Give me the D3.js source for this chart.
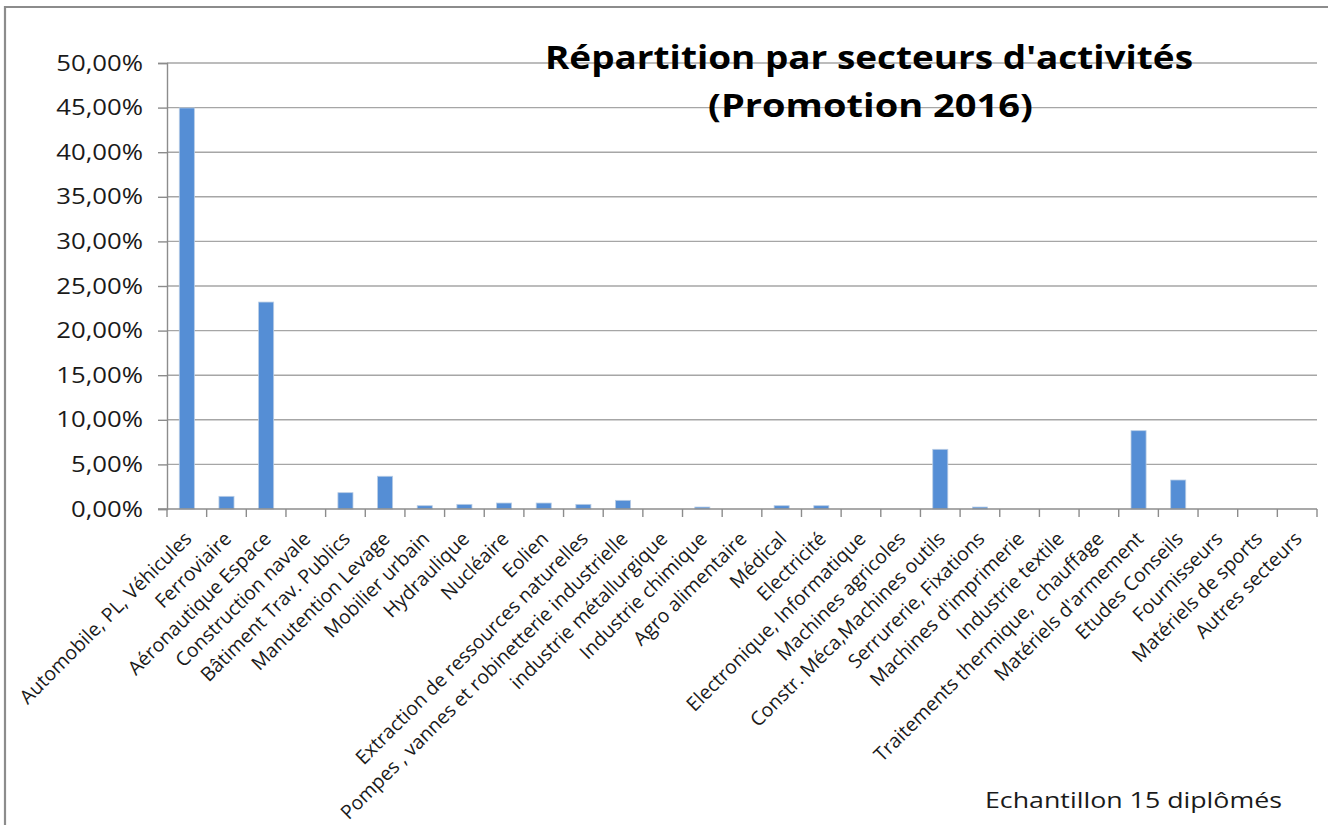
<!DOCTYPE html>
<html>
<head>
<meta charset="utf-8">
<script src="https://cdn.jsdelivr.net/npm/d3@7"></script>
<style>
  body { margin: 0; background: #fff; }
  svg { display: block; font-family: "Open Sans", Lato, sans-serif; }
</style>
</head>
<body>
<svg id="canvas" width="1328" height="825"></svg>
<script>
// categories (secteurs) and share of graduates
const secteurs = [
  "Automobile, PL, Véhicules", "Ferroviaire", "Aéronautique Espace", "Construction navale",
  "Bâtiment Trav. Publics", "Manutention Levage", "Mobilier urbain", "Hydraulique",
  "Nucléaire", "Eolien", "Extraction de ressources naturelles",
  "Pompes , vannes et robinetterie industrielle", "industrie métallurgique",
  "Industrie chimique", "Agro alimentaire", "Médical", "Electricité",
  "Electronique, Informatique", "Machines agricoles", "Constr. Méca,Machines outils",
  "Serrurerie, Fixations", "Machines d'imprimerie", "Industrie textile",
  "Traitements thermique,  chauffage", "Matériels d'armement", "Etudes Conseils",
  "Fournisseurs", "Matériels de sports", "Autres secteurs"
];
const parts = [
  0.4496, 0.0142, 0.2320, 0, 0.0183, 0.0367, 0.0037, 0.0052,
  0.0067, 0.0067, 0.0052, 0.0097, 0, 0.0022, 0, 0.0037, 0.0037,
  0, 0, 0.0669, 0.0022, 0, 0, 0, 0.0878, 0.0325, 0, 0, 0
];
const yTicks = [0, 0.05, 0.10, 0.15, 0.20, 0.25, 0.30, 0.35, 0.40, 0.45, 0.50];

const titre1 = "Répartition par secteurs d'activités";
const titre2 = "(Promotion 2016)";
const note = "Echantillon 15 diplômés";

let canvas = d3.select("#canvas");

// chart frame (left + top edge only are visible)
canvas.append("path")
    .attr("d", "M5,825 L5,7 L1328,7")
    .attr("fill", "none")
    .attr("stroke", "#8c8c8c")
    .attr("stroke-width", 2.2);

let x = d3.scaleBand()
    .domain(secteurs)
    .range([167, 1317])
    .paddingInner(0.62)
    .paddingOuter(0.31);

let y = d3.scaleLinear()
    .domain([0, 0.5])
    .range([509, 63]);

let fmt = (v) => d3.format(".2f")(v * 100).replace(".", ",") + "%";

// gridlines
canvas.append("g")
    .selectAll("line")
    .data(yTicks.filter((d) => d > 0))
    .enter()
    .append("line")
    .attr("x1", 167)
    .attr("x2", 1317)
    .attr("y1", (d) => y(d))
    .attr("y2", (d) => y(d))
    .attr("stroke", "#a6a6a6")
    .attr("stroke-width", 1.4);

// y axis
let yAxis = canvas.append("g")
    .attr("transform", "translate(167,0)")
    .call(d3.axisLeft(y).tickValues(yTicks).tickFormat(fmt).tickSize(9).tickPadding(0));
yAxis.select(".domain").attr("stroke", "#8c8c8c").attr("stroke-width", 1.4);
yAxis.selectAll(".tick line").attr("stroke", "#8c8c8c").attr("stroke-width", 1.4);
// labels are a bit wider than Open Sans, so stretch them horizontally
yAxis.selectAll(".tick text")
    .attr("x", null)
    .attr("transform", "translate(-24,0) scale(1.17,1)")
    .attr("font-size", 22)
    .attr("font-family", "'Open Sans', sans-serif")
    .attr("fill", "#1a1a1a");

// bars
canvas.append("g")
    .selectAll("rect")
    .data(secteurs)
    .enter()
    .append("rect")
    .attr("x", (d) => x(d))
    .attr("width", x.bandwidth())
    .attr("y", (d, i) => y(parts[i]))
    .attr("height", (d, i) => y(0) - y(parts[i]))
    .attr("fill", "#558ed5")
    .attr("stroke", (d, i) => parts[i] > 0 ? "#b9cde5" : "none")
    .attr("stroke-width", 0.8);

// x axis: line + ticks at category boundaries
let step = x.step();
let bounds = d3.range(secteurs.length + 1).map((i) => 167 + i * step);
canvas.append("line")
    .attr("x1", 158).attr("x2", 1317)
    .attr("y1", y(0)).attr("y2", y(0))
    .attr("stroke", "#8c8c8c").attr("stroke-width", 1.4);
canvas.append("g")
    .selectAll("line")
    .data(bounds)
    .enter()
    .append("line")
    .attr("x1", (d) => d).attr("x2", (d) => d)
    .attr("y1", y(0)).attr("y2", y(0) + 8)
    .attr("stroke", "#8c8c8c").attr("stroke-width", 1.4);

// rotated category labels
canvas.append("g")
    .selectAll("text")
    .data(secteurs)
    .enter()
    .append("text")
    .attr("transform", (d) => {
        let cx = x(d) + x.bandwidth() / 2 + 6;
        return "translate(" + cx + "," + 540 + ") rotate(-45)";
    })
    .attr("text-anchor", "end")
    .attr("font-size", 19.5)
    .attr("fill", "#1a1a1a")
    .attr("xml:space", "preserve")
    .style("white-space", "pre")
    .text((d) => d);

// title drawn over the gridlines
canvas.append("text")
    .attr("x", 545).attr("y", 69)
    .attr("font-size", 32)
    .attr("font-weight", "bold")
    .attr("fill", "#000")
    .attr("textLength", 648)
    .attr("lengthAdjust", "spacingAndGlyphs")
    .text(titre1);
canvas.append("text")
    .attr("x", 708).attr("y", 117)
    .attr("font-size", 32)
    .attr("font-weight", "bold")
    .attr("fill", "#000")
    .attr("textLength", 325)
    .attr("lengthAdjust", "spacingAndGlyphs")
    .text(titre2);

canvas.append("text")
    .attr("x", 985).attr("y", 808)
    .attr("font-size", 22)
    .attr("fill", "#1a1a1a")
    .attr("textLength", 297)
    .attr("lengthAdjust", "spacingAndGlyphs")
    .text(note);
</script>
</body>
</html>
